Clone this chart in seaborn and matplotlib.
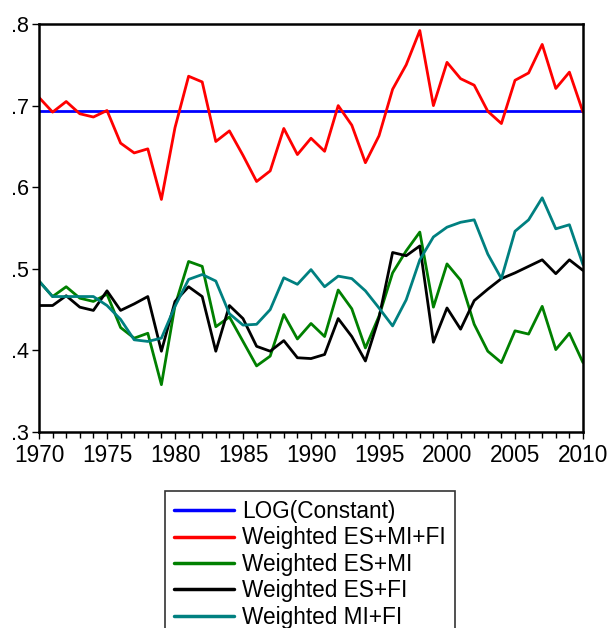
import numpy as np
import pandas as pd
import matplotlib
matplotlib.use("Agg")
import matplotlib.pyplot as plt
import seaborn as sns
from matplotlib.lines import Line2D

years = list(range(1970, 2011))

log_constant = 0.693

es_mi_fi = [0.710, 0.692, 0.705, 0.690, 0.686, 0.694, 0.654, 0.642, 0.647, 0.585,
            0.673, 0.736, 0.729, 0.656, 0.669, 0.639, 0.607, 0.620, 0.672, 0.640,
            0.660, 0.644, 0.700, 0.676, 0.630, 0.663, 0.720, 0.750, 0.792, 0.700,
            0.753, 0.733, 0.725, 0.693, 0.678, 0.731, 0.740, 0.775, 0.721, 0.741,
            0.692]

es_mi = [0.485, 0.466, 0.478, 0.464, 0.460, 0.469, 0.428, 0.415, 0.421, 0.358,
         0.455, 0.509, 0.503, 0.429, 0.441, 0.411, 0.381, 0.393, 0.444, 0.414,
         0.433, 0.417, 0.474, 0.451, 0.403, 0.442, 0.495, 0.522, 0.545, 0.453,
         0.506, 0.486, 0.432, 0.399, 0.385, 0.424, 0.420, 0.454, 0.401, 0.421,
         0.385]

es_fi = [0.455, 0.455, 0.467, 0.453, 0.449, 0.473, 0.449, 0.457, 0.466, 0.399,
         0.460, 0.478, 0.466, 0.399, 0.455, 0.439, 0.405, 0.399, 0.412, 0.391,
         0.390, 0.395, 0.439, 0.417, 0.387, 0.440, 0.520, 0.516, 0.528, 0.410,
         0.452, 0.426, 0.461, 0.475, 0.488, 0.495, 0.503, 0.511, 0.494, 0.511,
         0.498]

mi_fi = [0.485, 0.466, 0.466, 0.466, 0.466, 0.455, 0.438, 0.413, 0.411, 0.415,
         0.454, 0.487, 0.493, 0.485, 0.445, 0.431, 0.432, 0.450, 0.489, 0.481,
         0.499, 0.478, 0.491, 0.488, 0.473, 0.452, 0.430, 0.462, 0.511, 0.539,
         0.551, 0.557, 0.560, 0.518, 0.488, 0.546, 0.560, 0.587, 0.549, 0.554,
         0.505]

series_names = ["LOG(Constant)", "Weighted ES+MI+FI", "Weighted ES+MI",
                "Weighted ES+FI", "Weighted MI+FI"]
series_values = [[log_constant] * len(years), es_mi_fi, es_mi, es_fi, mi_fi]
colors = ["#0000FF", "#FF0000", "#008000", "#000000", "#008080"]

y_ticks = [0.3, 0.4, 0.5, 0.6, 0.7, 0.8]
y_tick_labels = [".3", ".4", ".5", ".6", ".7", ".8"]
x_ticks = [1970, 1975, 1980, 1985, 1990, 1995, 2000, 2005, 2010]

frames = []
for name, vals in zip(series_names, series_values):
    frames.append(pd.DataFrame({"year": years, "value": vals, "series": name}))
df = pd.concat(frames, ignore_index=True)

sns.set_style("white")
plt.rcParams["font.family"] = ["Liberation Sans", "DejaVu Sans"]
plt.rcParams["text.color"] = "black"

fig = plt.figure(figsize=(6.09, 6.28), dpi=100)
ax = fig.add_axes([39 / 609, 1 - 432 / 628, (583 - 39) / 609, (432 - 24) / 628])

sns.lineplot(data=df, x="year", y="value", hue="series", hue_order=series_names,
             palette=dict(zip(series_names, colors)), linewidth=2.0, ax=ax,
             legend=False)

ax.set_xlim(1970, 2010)
ax.set_ylim(0.3, 0.8)
ax.set_yticks(y_ticks)
ax.set_yticklabels(y_tick_labels)
ax.set_xticks(x_ticks)
ax.set_xticklabels([str(t) for t in x_ticks])
ax.set_xticks(years, minor=True)
ax.set_xlabel("")
ax.set_ylabel("")
ax.tick_params(axis="both", which="both", direction="out", color="black",
               labelcolor="black")
ax.tick_params(axis="x", which="major", length=5, width=1, pad=4, bottom=True,
               labelsize=16.3)
ax.tick_params(axis="x", which="minor", length=4, width=1, bottom=True)
ax.tick_params(axis="y", which="major", length=5, width=1, pad=2, left=True,
               labelsize=15.5)
for side in ["left", "bottom", "right", "top"]:
    ax.spines[side].set_visible(True)
    ax.spines[side].set_color("black")
    ax.spines[side].set_linewidth(1.8)

handles = [Line2D([0], [0], color=c, linewidth=2.5) for c in colors]
leg = fig.legend(handles, series_names, loc="upper left",
                 bbox_to_anchor=(165 / 609, 1 - 491 / 628),
                 frameon=True, fancybox=False, fontsize=16.3,
                 handlelength=2.65, handletextpad=0.35, labelspacing=0.15,
                 borderpad=0.4, borderaxespad=0.0, labelcolor="black")
leg.get_frame().set_edgecolor("black")
leg.get_frame().set_linewidth(1.2)

fig.savefig("out.png", dpi=100)
